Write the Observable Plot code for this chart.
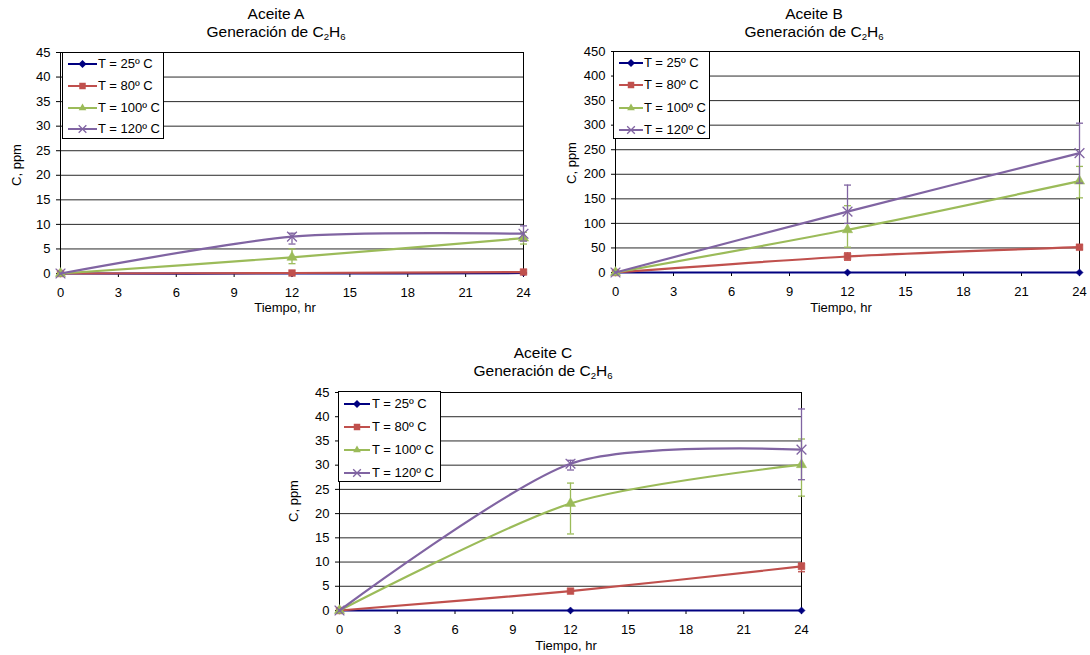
<!DOCTYPE html>
<html><head><meta charset="utf-8">
<script src="https://cdn.jsdelivr.net/npm/d3@7"></script>
<script src="https://cdn.jsdelivr.net/npm/@observablehq/plot@0.6"></script>
<style>
body{margin:0;background:#fff;font-family:"Liberation Sans",Arial,sans-serif;width:1090px;height:655px;position:relative;overflow:hidden;color:#000}
.chart{position:absolute}
.chart svg{background:transparent}
.title{position:absolute;text-align:center;font-size:15.5px;line-height:18px;transform:translateX(-50%);white-space:nowrap}
.title sub{font-size:0.62em;vertical-align:-0.3em;line-height:0}
.ylab{position:absolute;font-size:13px;transform:translate(-50%,-50%) rotate(-90deg);white-space:nowrap}
.xlab{position:absolute;font-size:13px;transform:translate(-50%,-50%);white-space:nowrap}
.legend{position:absolute;background:#fff;border:1px solid #000;box-sizing:border-box;font-size:13px;font-family:"Liberation Sans",Arial,sans-serif}
.legend svg{position:absolute;display:block}
.legend span{position:absolute;white-space:nowrap;line-height:16px;transform:translateY(-50%)}
</style>
</head><body>
<script>
// ---- shared data ----
const hours = [0, 12, 24];
const xTicks = [0, 3, 6, 9, 12, 15, 18, 21, 24];
const seriesNames = ["T = 25º C", "T = 80º C", "T = 100º C", "T = 120º C"];
const seriesColors = ["#000080", "#C0504D", "#9BBB59", "#8064A2"];
const seriesSymbols = ["diamond2", "square", "triangle", "times"];

// ---- Aceite A ----
const aValues = [[0, 0, 0.1], [0, 0.1, 0.3], [0, 3.3, 7.2], [0, 7.5, 8.1]];
const aLow    = [[null, null, null], [null, null, null], [null, 2.0, 6.0], [null, 6.0, 6.6]];
const aHigh   = [[null, null, null], [null, null, null], [null, 5.0, 8.4], [null, 8.2, 9.7]];
const aYTicks = [0, 5, 10, 15, 20, 25, 30, 35, 40, 45];

// ---- Aceite B ----
const bValues = [[0, 0, 0], [0, 32.6, 51.5], [0, 87, 186], [0, 124, 243]];
const bLow    = [[null, null, null], [null, 25, 47], [null, 51.5, 152], [null, 100, 182]];
const bHigh   = [[null, null, null], [null, 40, 56], [null, 136, 216], [null, 178, 304]];
const bYTicks = [0, 50, 100, 150, 200, 250, 300, 350, 400, 450];

// ---- Aceite C ----
const cValues = [[0, 0, 0], [0, 4.0, 9.1], [0, 22.1, 30.1], [0, 30.3, 33.2]];
const cLow    = [[null, null, null], [null, null, 8.0], [null, 15.8, 23.6], [null, 29.0, 27.0]];
const cHigh   = [[null, null, null], [null, null, 9.8], [null, 26.3, 35.4], [null, 31.0, 41.6]];
const cYTicks = [0, 5, 10, 15, 20, 25, 30, 35, 40, 45];

const capSymbol = {draw(ctx) { ctx.moveTo(-3.5, 0); ctx.lineTo(3.5, 0); }};

function makeChart({values, low, high, yTicks, width, height, ml, mr, mt, mb}) {
  const marks = [
    Plot.ruleY(yTicks.slice(1), {stroke: "#2a2a2a", strokeWidth: 1}),
    Plot.frame({stroke: "#000"})
  ];
  values.forEach((vals, s) => {
    const pts = hours.map((h, i) => ({x: h, y: vals[i]}));
    const bars = [];
    hours.forEach((h, i) => { if (low[s][i] != null) bars.push({x: h, lo: low[s][i], hi: high[s][i]}); });
    const col = seriesColors[s];
    marks.push(Plot.line(pts, {x: "x", y: "y", stroke: col, strokeWidth: 2.2, curve: "cardinal", tension: 0.2}));
    marks.push(Plot.ruleX(bars, {x: "x", y1: "lo", y2: "hi", stroke: col, strokeWidth: 1.3}));
    marks.push(Plot.dot(bars, {x: "x", y: "lo", symbol: capSymbol, stroke: col, strokeWidth: 1.3, fill: "none"}));
    marks.push(Plot.dot(bars, {x: "x", y: "hi", symbol: capSymbol, stroke: col, strokeWidth: 1.3, fill: "none"}));
    const sym = seriesSymbols[s];
    if (sym === "times") {
      marks.push(Plot.dot(pts, {x: "x", y: "y", symbol: sym, stroke: col, strokeWidth: 1.3, r: 4.5}));
    } else {
      marks.push(Plot.dot(pts, {x: "x", y: "y", symbol: sym, fill: col, stroke: col, strokeWidth: 0.5, r: sym === "diamond2" ? 3.2 : 3.8}));
    }
  });
  return Plot.plot({
    width, height,
    marginLeft: ml, marginRight: mr, marginTop: mt, marginBottom: mb,
    style: {fontFamily: "'Liberation Sans', Arial, sans-serif", fontSize: "13px", color: "#000", background: "transparent", overflow: "visible"},
    x: {domain: [0, 24], ticks: xTicks, tickSize: 4, tickPadding: 10, label: null},
    y: {domain: [0, yTicks[yTicks.length - 1]], ticks: yTicks, tickSize: 4, tickPadding: 6, label: null},
    marks
  });
}

function place(node, left, top) {
  const d = document.createElement("div");
  d.className = "chart";
  d.style.left = left + "px";
  d.style.top = top + "px";
  d.appendChild(node);
  document.body.appendChild(d);
}

function addHTML(cls, html, x, y) {
  const d = document.createElement("div");
  d.className = cls;
  d.innerHTML = html;
  d.style.left = x + "px";
  d.style.top = y + "px";
  document.body.appendChild(d);
}

const symMap = {diamond2: d3.symbolDiamond2, square: d3.symbolSquare, triangle: d3.symbolTriangle2, times: d3.symbolTimes};

function legend(left, top, w, h, rowYs, sampleX0, sampleW, textX) {
  const box = document.createElement("div");
  box.className = "legend";
  Object.assign(box.style, {left: left + "px", top: top + "px", width: w + "px", height: h + "px"});
  seriesNames.forEach((name, s) => {
    const svg = d3.create("svg").attr("width", sampleW).attr("height", 12)
      .style("left", sampleX0 + "px").style("top", (rowYs[s] - 6) + "px");
    svg.append("line").attr("x1", 0).attr("x2", sampleW).attr("y1", 6).attr("y2", 6)
      .attr("stroke", seriesColors[s]).attr("stroke-width", 2);
    const isTimes = seriesSymbols[s] === "times";
    const p = svg.append("path").attr("transform", `translate(${sampleW / 2},6)`)
      .attr("d", d3.symbol(symMap[seriesSymbols[s]], isTimes ? 40 : 42)());
    if (isTimes) p.attr("fill", "none").attr("stroke", seriesColors[s]).attr("stroke-width", 1.3);
    else p.attr("fill", seriesColors[s]);
    box.appendChild(svg.node());
    const t = document.createElement("span");
    t.textContent = name;
    t.style.left = textX + "px";
    t.style.top = rowYs[s] + "px";
    box.appendChild(t);
  });
  document.body.appendChild(box);
}

// Chart A
place(makeChart({values: aValues, low: aLow, high: aHigh, yTicks: aYTicks, width: 545, height: 300, ml: 60, mr: 22, mt: 52, mb: 27}), 0, 0);
// Chart B
place(makeChart({values: bValues, low: bLow, high: bHigh, yTicks: bYTicks, width: 545, height: 300, ml: 70, mr: 11, mt: 51, mb: 28}), 545, 0);
// Chart C
place(makeChart({values: cValues, low: cLow, high: cHigh, yTicks: cYTicks, width: 545, height: 325, ml: 69, mr: 14, mt: 62, mb: 45}), 270, 330);

const sub = "Generación de C<sub>2</sub>H<sub>6</sub>";
addHTML("title", "Aceite A<br>" + sub, 276, 5);
addHTML("title", "Aceite B<br>" + sub, 814, 5);
addHTML("title", "Aceite C<br>" + sub, 543, 344);

addHTML("ylab", "C, ppm", 16, 165);
addHTML("ylab", "C, ppm", 571, 163);
addHTML("ylab", "C, ppm", 293, 501);
addHTML("xlab", "Tiempo, hr", 285, 307);
addHTML("xlab", "Tiempo, hr", 841, 307);
addHTML("xlab", "Tiempo, hr", 566, 645);

legend(62, 52, 102, 87, [11, 33, 55, 76], 5, 29, 35);
legend(613, 51, 97, 88, [11, 33, 56, 78], 5, 24, 30);
legend(338, 391, 103, 91, [12, 35, 58, 81], 5, 26, 33);
</script>
</body></html>
